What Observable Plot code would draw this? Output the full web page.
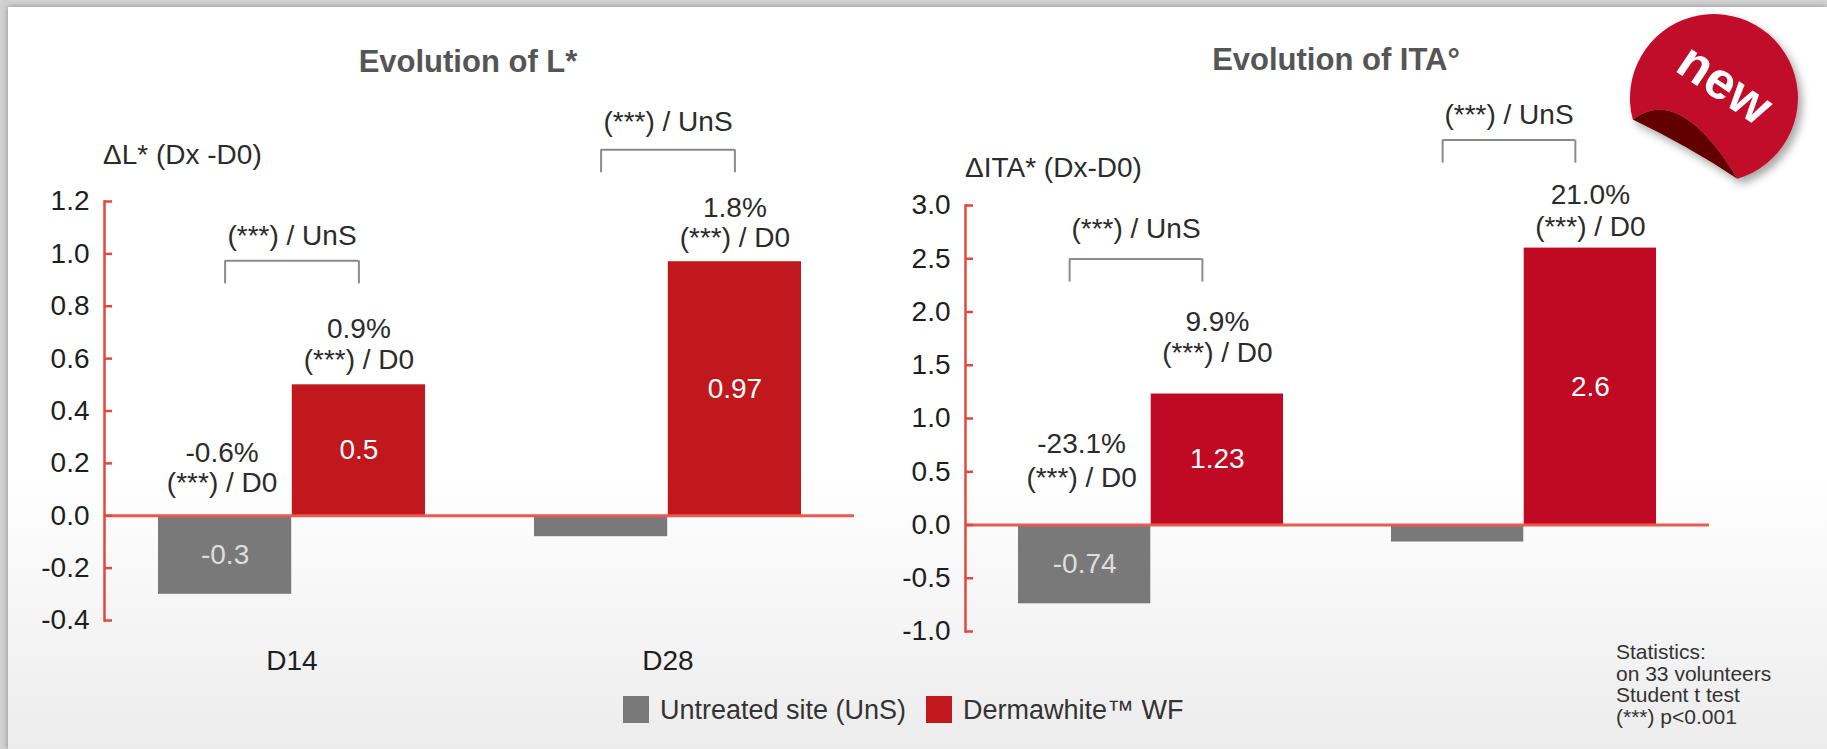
<!DOCTYPE html>
<html>
<head>
<meta charset="utf-8">
<script src="https://cdn.jsdelivr.net/npm/d3@7"></script>
<script src="https://cdn.jsdelivr.net/npm/@observablehq/plot@0.6"></script>
<style>
html, body { margin: 0; padding: 0; }
body { width: 1827px; height: 749px; overflow: hidden; position: relative; background: #d2d2d2; font-family: "Liberation Sans", Arial, sans-serif; }
#panel { position: absolute; left: 8px; top: 7px; width: 1819px; height: 742px;
  background: linear-gradient(to bottom, #ffffff 0%, #ffffff 63%, #ececec 100%);
  box-shadow: 0 0 6px rgba(0,0,0,0.35); }
.abs { position: absolute; white-space: nowrap; }
.title { font-weight: bold; font-size: 31px; color: #555; transform: translate(-50%, -50%); }
.ylab { font-size: 28px; color: #2b2b2b; transform: translateY(-50%); }
.leg { font-size: 27px; color: #333; transform: translateY(-50%); }
.sw { position: absolute; width: 26px; height: 27px; }
#stats { font-size: 21px; line-height: 21.7px; color: #333; }
</style>
</head>
<body>
<div id="panel"></div>
<div id="charts"></div>
<script>
// ---------------- data ----------------
const days = ["D14", "D28"];
const seriesNames = ["Untreated site (UnS)", "Dermawhite™ WF"];

const lTitle = "Evolution of L*";
const lAxisLabel = "ΔL* (Dx -D0)";
const lTicks = [-0.4, -0.2, 0, 0.2, 0.4, 0.6, 0.8, 1.0, 1.2];
const lUntreated = [-0.3, -0.08];
const lDermawhite = [0.5, 0.97];
const lUntreatedLabels = ["-0.3", ""];
const lDermawhiteLabels = ["0.5", "0.97"];
const lUntreatedPct = ["-0.6%", ""];
const lDermawhitePct = ["0.9%", "1.8%"];

const itaTitle = "Evolution of ITA°";
const itaAxisLabel = "ΔITA* (Dx-D0)";
const itaTicks = [-1.0, -0.5, 0, 0.5, 1.0, 1.5, 2.0, 2.5, 3.0];
const itaUntreated = [-0.74, -0.16];
const itaDermawhite = [1.23, 2.6];
const itaUntreatedLabels = ["-0.74", ""];
const itaDermawhiteLabels = ["1.23", "2.6"];
const itaUntreatedPct = ["-23.1%", ""];
const itaDermawhitePct = ["9.9%", "21.0%"];

const sigVsD0 = "(***) / D0";
const sigVsUnS = "(***) / UnS";
const statsLines = ["Statistics:", "on 33 volunteers", "Student t test", "(***) p<0.001"];
const badgeText = "new";

// ---------------- style ----------------
const FONT = "'Liberation Sans', Arial, sans-serif";
const GRAY = "#787978";
const AXIS = "#e4473c";
const BASE = "#ea5a4f";
const BRK = "#8a8a8a";
const TXT = "#2b2b2b";

function drawPanel(cfg) {
  const {left, width, height, mt, mb, ml, mr, domain, ticks, uns, wf, unsLab, wfLab, unsPct, wfPct, red, showX, off} = cfg;
  const rows = days.map((day, i) => ({i, day, uns: uns[i], wf: wf[i], unsLab: unsLab[i], wfLab: wfLab[i], unsPct: unsPct[i], wfPct: wfPct[i]}));
  const pi = 0.29, po = 0.14;
  const step = (width - ml - mr) / (days.length - pi + 2 * po);
  const bw = step * (1 - pi);
  const q = bw / 4;
  const k = (height - mt - mb) / (domain[1] - domain[0]);
  const px = p => p / k;
  const s = off.shift;
  const txt = {fontSize: 28, fill: TXT, fontFamily: FONT};
  const withPct = rows.filter(r => r.unsPct);
  const top = r => r.wf + px(off.brk[r.i]);
  const marks = [
    Plot.barY(rows, {x: "day", y: "uns", fill: GRAY, insetRight: bw / 2}),
    Plot.barY(rows, {x: "day", y: "wf", fill: red, insetLeft: bw / 2}),
    Plot.ruleY([0], {stroke: BASE, strokeWidth: 3}),
    Plot.frame({anchor: "left", stroke: AXIS, strokeWidth: 2.5}),
    Plot.axisY({ticks, tickSize: 8, dx: 8, tickFormat: () => "", stroke: AXIS, strokeWidth: 2.5, label: null}),
    Plot.axisY({ticks, tickSize: 0, tickPadding: 15, tickFormat: d => d.toFixed(1), fontSize: 28, fill: "#1e1e1e", fontFamily: FONT, label: null}),
    Plot.text(rows, {x: "day", y: r => r.wf / 2, text: "wfLab", dx: q, fill: "white", fontSize: 28, fontFamily: FONT}),
    Plot.text(rows, {x: "day", y: r => r.uns / 2, text: "unsLab", dx: -q, fill: "#dedede", fontSize: 28, fontFamily: FONT}),
    Plot.text(rows, {x: "day", y: r => r.wf + px(off.pct[r.i]), text: "wfPct", dx: q, ...txt}),
    Plot.text(rows, {x: "day", y: r => r.wf + px(off.sig[r.i]), text: () => sigVsD0, dx: q, ...txt}),
    Plot.text(withPct, {x: "day", y: () => px(off.unsPct), text: "unsPct", dx: -q - 3, ...txt}),
    Plot.text(withPct, {x: "day", y: () => px(off.unsSig), text: () => sigVsD0, dx: -q - 3, ...txt}),
    Plot.tickY(rows, {x: "day", y: top, insetLeft: q + s, insetRight: q - s, stroke: BRK, strokeWidth: 2}),
    Plot.ruleX(rows, {x: "day", y1: top, y2: r => top(r) - px(23), dx: -q + s, stroke: BRK, strokeWidth: 2}),
    Plot.ruleX(rows, {x: "day", y1: top, y2: r => top(r) - px(23), dx: q + s, stroke: BRK, strokeWidth: 2}),
    Plot.text(rows, {x: "day", y: r => r.wf + px(off.brkLab[r.i]), text: () => sigVsUnS, dx: s, ...txt})
  ];
  if (showX) marks.push(Plot.axisX({tickSize: 0, tickPadding: 30, fontSize: 28, fill: "#1e1e1e", fontFamily: FONT, label: null}));
  const svg = Plot.plot({
    width, height,
    marginTop: mt, marginBottom: mb, marginLeft: ml, marginRight: mr,
    x: {type: "band", domain: days, paddingInner: pi, paddingOuter: po, align: 0.5, axis: showX ? undefined : null},
    y: {domain},
    style: {background: "transparent", overflow: "visible", fontFamily: FONT, position: "absolute", left: left + "px", top: "0px"},
    marks
  });
  document.getElementById("charts").appendChild(svg);
}

drawPanel({
  left: 0, width: 900, height: 749, mt: 201, mb: 129, ml: 104, mr: 46,
  domain: [-0.4, 1.2], ticks: lTicks,
  uns: lUntreated, wf: lDermawhite, unsLab: lUntreatedLabels, wfLab: lDermawhiteLabels,
  unsPct: lUntreatedPct, wfPct: lDermawhitePct, red: "#c0181c", showX: true,
  off: {pct: [56, 54], sig: [25, 24], unsPct: 63, unsSig: 33, brk: [124, 112], brkLab: [149, 140], shift: 0}
});
drawPanel({
  left: 900, width: 927, height: 749, mt: 205, mb: 118, ml: 65, mr: 118,
  domain: [-1.0, 3.0], ticks: itaTicks,
  uns: itaUntreated, wf: itaDermawhite, unsLab: itaUntreatedLabels, wfLab: itaDermawhiteLabels,
  unsPct: itaUntreatedPct, wfPct: itaDermawhitePct, red: "#c00a24", showX: false,
  off: {pct: [72, 53], sig: [41, 21], unsPct: 81, unsSig: 47, brk: [135, 108], brkLab: [165, 133], shift: -15}
});

// ---------------- html text ----------------
function addDiv(cls, text, x, y) {
  const d = document.createElement("div");
  d.className = "abs " + cls;
  d.textContent = text;
  d.style.left = x + "px";
  d.style.top = y + "px";
  document.body.appendChild(d);
  return d;
}
addDiv("title", lTitle, 468, 62);
addDiv("title", itaTitle, 1336, 60);
addDiv("ylab", lAxisLabel, 103, 155);
addDiv("ylab", itaAxisLabel, 965, 168);

// legend
const legColors = [GRAY, "#c0181c"];
const legX = [623, 926];
seriesNames.forEach((name, i) => {
  const sw = document.createElement("div");
  sw.className = "sw";
  sw.style.left = legX[i] + "px";
  sw.style.top = "696px";
  sw.style.background = legColors[i];
  document.body.appendChild(sw);
  addDiv("leg", name, legX[i] + 37, 710);
});

const st = document.createElement("div");
st.id = "stats";
st.className = "abs";
st.style.left = "1616px";
st.style.top = "641px";
st.innerHTML = statsLines.map(t => t.replace(/</g, "&lt;")).join("<br>");
document.body.appendChild(st);

// badge (decoration)
const ns = "http://www.w3.org/2000/svg";
const b = document.createElementNS(ns, "svg");
b.setAttribute("width", 227); b.setAttribute("height", 200);
b.style.position = "absolute"; b.style.left = "1600px"; b.style.top = "0px"; b.style.overflow = "visible";
b.innerHTML = `
  <defs><filter id="sh" x="-30%" y="-30%" width="160%" height="160%"><feDropShadow dx="4" dy="5" stdDeviation="4" flood-color="#000" flood-opacity="0.35"/></filter></defs>
  <g filter="url(#sh)">
    <path d="M32.8,119.6 A84,84 0 1 1 137.3,178.7 Q80,84 32.8,119.6 Z" fill="#c20f2c"/>
    <path d="M32.8,119.6 Q80,84 137.3,178.7 Q88,146 32.8,119.6 Z" fill="#620006"/>
  </g>
  <text transform="translate(123,87) rotate(34)" text-anchor="middle" dominant-baseline="middle" font-family="'Liberation Sans', Arial, sans-serif" font-weight="bold" font-size="52" fill="#fff">${badgeText}</text>`;
document.body.appendChild(b);
</script>
</body>
</html>
